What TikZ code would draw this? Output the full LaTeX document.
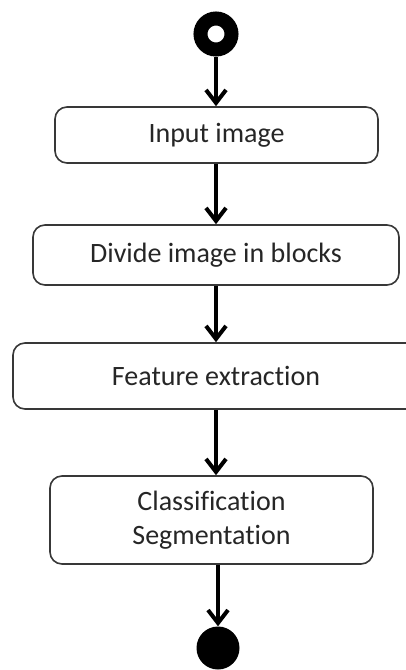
\documentclass[tikz,border=0pt]{standalone}
\usepackage{fontspec}
\setmainfont{Carlito}[Ligatures={NoCommon,NoContextual}]
\usetikzlibrary{arrows.meta}
\tikzset{
  box/.style={draw=black!78, line width=1.6pt, rounded corners=12pt, inner sep=0pt,
    align=center, text=black!85, font=\fontsize{28}{34}\selectfont},
  arr/.style={line width=4pt, -{Straight Barb[length=13pt,width=20pt,line width=4pt]}},
}
\begin{document}
\begin{tikzpicture}[x=1pt,y=-1pt]
\clip (0,0) rectangle (406,670);
\fill[white] (0,0) rectangle (406,670);
\node[circle, draw=black, fill=white, line width=14pt, minimum size=31pt, inner sep=0pt] (start) at (216,34) {};
\node[box, minimum width=323pt, minimum height=56pt] (in) at (216.5,135) {\raisebox{-7pt}{Input image}};
\node[box, minimum width=366pt, minimum height=60pt] (div) at (216,255) {\raisebox{-3pt}{Divide image in blocks}};
\node[box, minimum width=406pt, minimum height=66pt] (feat) at (216,376) {\raisebox{1pt}{Feature extraction}};
\node[box, minimum width=323pt, minimum height=88pt] (cls) at (211.5,520) {Classification\\Segmentation};
\node[circle, fill=black, minimum size=43pt, inner sep=0pt] (end) at (218,648) {};
\draw[arr] (start.south) -- (start.south |- in.north);
\draw[arr] (in.south -| start) -- (div.north -| start);
\draw[arr] (div.south -| start) -- (feat.north -| start);
\draw[arr] (feat.south -| start) -- (cls.north -| start);
\draw[arr] (cls.south -| end) -- (end.north);
\end{tikzpicture}
\end{document}
